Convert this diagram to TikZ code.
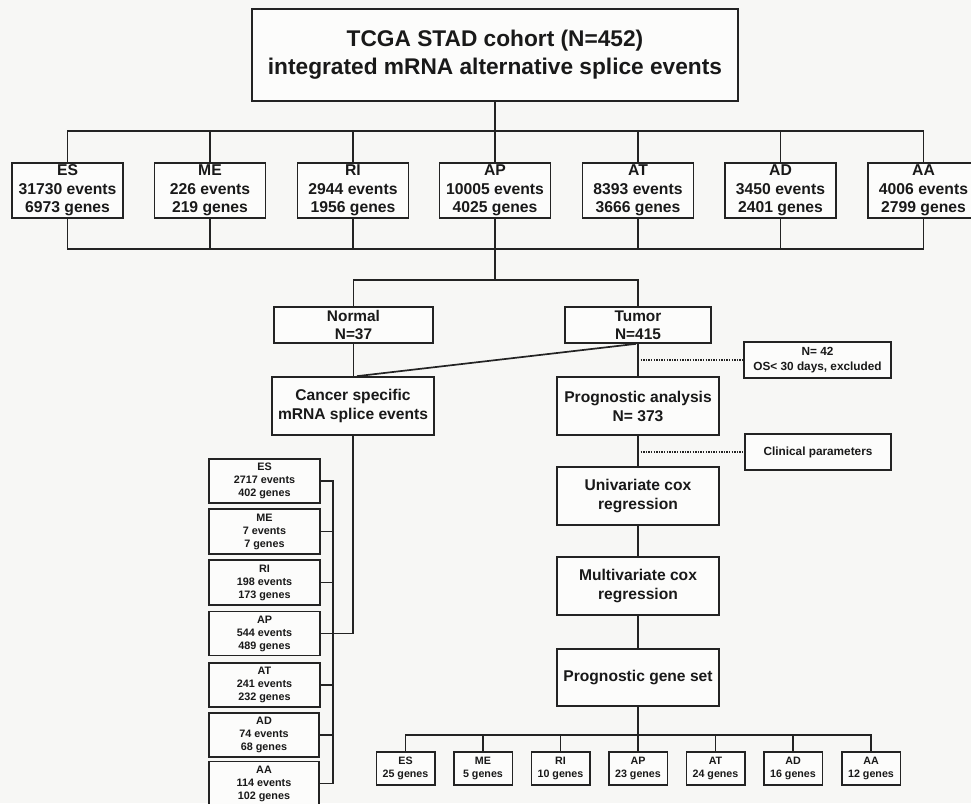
\documentclass[tikz,border=0pt]{standalone}
\usepackage{fontspec}
\setmainfont{Liberation Sans}
\definecolor{bgc}{RGB}{247,247,245}
\definecolor{linec}{RGB}{35,35,35}
\definecolor{txtc}{RGB}{25,25,25}
\tikzset{
  box/.style={draw=linec, line width=1.7pt, fill=white!60!bgc, inner sep=0pt, align=center, text=txtc},
  conn/.style={draw=linec, line width=1.7pt},
  dotline/.style={draw=linec, line width=1.4pt, dash pattern=on 1.3pt off 1.3pt},
  topbox/.style={box, minimum width=486pt, minimum height=92pt, font=\fontsize{22.7}{28}\selectfont\bfseries},
  evbox/.style={box, minimum width=111pt, minimum height=55pt, font=\fontsize{15.7}{18.5}\selectfont\bfseries},
  midbox/.style={box, minimum height=58pt, minimum width=162pt, font=\fontsize{15.6}{19}\selectfont\bfseries},
  grpbox/.style={box, minimum height=36pt, font=\fontsize{15.4}{18}\selectfont\bfseries},
  sidebox/.style={box, minimum height=36pt, minimum width=146pt, font=\fontsize{11.8}{15}\selectfont\bfseries},
  stackbox/.style={box, line width=1.5pt, minimum width=111pt, minimum height=44pt, font=\fontsize{10.8}{13}\selectfont\bfseries},
  smallbox/.style={box, line width=1.5pt, minimum width=58.5pt, minimum height=33pt, font=\fontsize{10.7}{13}\selectfont\bfseries},
}
\begin{document}
\begin{tikzpicture}[x=1pt,y=-1pt]
\path[use as bounding box, fill=bgc] (0,0) rectangle (971,803);
\clip (0,0) rectangle (971,803);

% top
\node[topbox] (top) at (495,55) {\raisebox{-3pt}{\begin{tabular}{@{}c@{}}TCGA STAD cohort (N=452)\\integrated mRNA alternative splice events\end{tabular}}};

% event boxes
\node[evbox] (eES) at (67.5,190.5) {ES\\31730 events\\6973 genes};
\node[evbox] (eME) at (210,190.5) {ME\\226 events\\219 genes};
\node[evbox] (eRI) at (353,190.5) {RI\\2944 events\\1956 genes};
\node[evbox] (eAP) at (495,190.5) {AP\\10005 events\\4025 genes};
\node[evbox] (eAT) at (638,190.5) {AT\\8393 events\\3666 genes};
\node[evbox] (eAD) at (780.5,190.5) {AD\\3450 events\\2401 genes};
\node[evbox] (eAA) at (923.5,190.5) {AA\\4006 events\\2799 genes};

\coordinate (b1) at (495,131);
\coordinate (b2) at (495,249);
\coordinate (b3) at (495,280);

\draw[conn] (top.south) -- (b1);
\draw[conn] (eES.north) -- (eES.north |- b1) -- (eAA.north |- b1) -- (eAA.north);
\foreach \n in {eME,eRI,eAP,eAT,eAD} \draw[conn] (\n.north) -- (\n.north |- b1);
\draw[conn] (eES.south) -- (eES.south |- b2) -- (eAA.south |- b2) -- (eAA.south);
\foreach \n in {eME,eRI,eAT,eAD} \draw[conn] (\n.south) -- (\n.south |- b2);
\draw[conn] (eAP.south) -- (b3);

% normal / tumor
\node[grpbox, minimum width=159pt] (normal) at (353.5,325) {Normal\\N=37};
\node[grpbox, minimum width=146pt] (tumor) at (638,325) {Tumor\\N=415};
\draw[conn] (normal.north) |- (b3) -| (tumor.north);

\node[midbox] (cancer) at (353,406) {Cancer specific\\mRNA splice events};
\node[midbox] (prog) at (638,406) {Prognostic analysis\\N= 373};
\draw[conn] (normal.south) -- (normal.south |- cancer.north);
\draw[conn] ([xshift=-2pt]tumor.south) -- ([xshift=4pt]cancer.north);
\draw[conn] (tumor.south) -- (prog.north);

\node[sidebox, minimum width=147pt] (n42) at (817.5,360) {N= 42\\OS< 30 days, excluded};
\node[sidebox] (clin) at (818,452) {Clinical parameters};
\draw[dotline] (tumor.south |- n42.west) -- (n42.west);
\draw[dotline] (prog.south |- clin.west) -- (clin.west);

\node[midbox] (univ) at (638,496) {Univariate cox\\regression};
\node[midbox] (multi) at (638,586) {Multivariate cox\\regression};
\node[midbox, minimum height=57pt] (pgs) at (638,677.5) {Prognostic gene set};
\draw[conn] (prog.south) -- (univ.north);
\draw[conn] (univ.south) -- (multi.north);
\draw[conn] (multi.south) -- (pgs.north);

% bottom small boxes
\coordinate (b4) at (638,735);
\node[smallbox] (sES) at (405.5,768.5) {ES\\25 genes};
\node[smallbox] (sME) at (483,768.5) {ME\\5 genes};
\node[smallbox] (sRI) at (560.5,768.5) {RI\\10 genes};
\node[smallbox] (sAP) at (638,768.5) {AP\\23 genes};
\node[smallbox] (sAT) at (715.5,768.5) {AT\\24 genes};
\node[smallbox] (sAD) at (793,768.5) {AD\\16 genes};
\node[smallbox] (sAA) at (871,768.5) {AA\\12 genes};
\draw[conn] (pgs.south) -- (b4);
\draw[conn] (sES.north) -- (sES.north |- b4) -- (sAA.north |- b4) -- (sAA.north);
\foreach \n in {sME,sRI,sAP,sAT,sAD} \draw[conn] (\n.north) -- (\n.north |- b4);

% left stack
\coordinate (lbar) at (333,500);
\node[stackbox] (lES) at (264.5,481) {ES\\2717 events\\402 genes};
\node[stackbox, minimum height=45pt] (lME) at (264.5,531.5) {ME\\7 events\\7 genes};
\node[stackbox, minimum height=45pt] (lRI) at (264.5,582.5) {RI\\198 events\\173 genes};
\node[stackbox] (lAP) at (264.5,633.5) {AP\\544 events\\489 genes};
\node[stackbox] (lAT) at (264.5,685) {AT\\241 events\\232 genes};
\node[stackbox, minimum width=110pt] (lAD) at (264,735) {AD\\74 events\\68 genes};
\node[stackbox, minimum width=110pt] (lAA) at (264,783.5) {AA\\114 events\\102 genes};
\draw[conn] (lES.east) -- (lES.east -| lbar) -- (lAA.east -| lbar) -- (lAA.east);
\foreach \n in {lME,lRI,lAT,lAD} \draw[conn] (\n.east) -- (\n.east -| lbar);
\draw[conn] (cancer.south) |- (lAP.east);
\end{tikzpicture}
\end{document}
